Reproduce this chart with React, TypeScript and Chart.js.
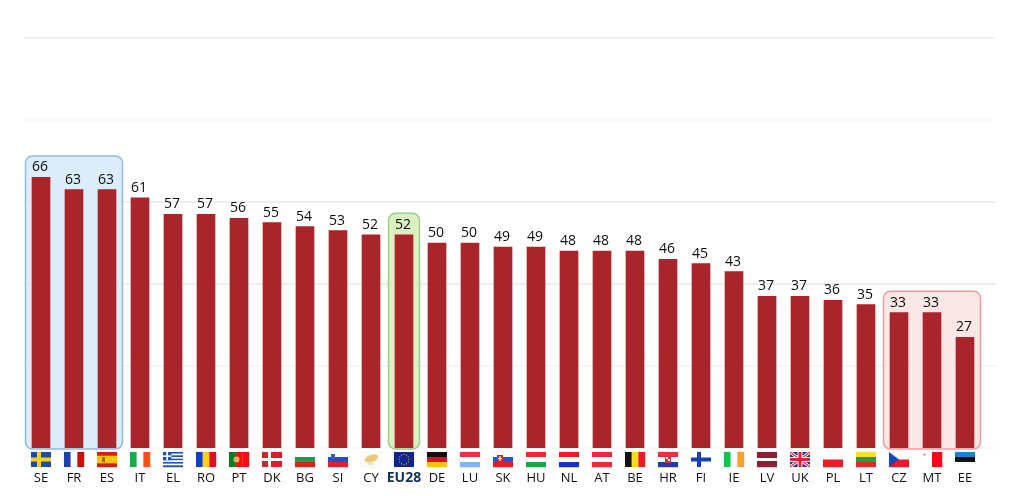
import React, { useEffect, useRef } from "react";
import { Chart, registerables } from "chart.js";

Chart.register(...registerables);

const categories = ["SE","FR","ES","IT","EL","RO","PT","DK","BG","SI","CY","EU28","DE","LU","SK","HU","NL","AT","BE","HR","FI","IE","LV","UK","PL","LT","CZ","MT","EE"];
const values = [66,63,63,61,57,57,56,55,54,53,52,52,50,50,49,49,48,48,48,46,45,43,37,37,36,35,33,33,27];
const gridValues = [0,20,40,60,80,100];
const gridColors = ["#f6f6f6","#f2f2f2","#e9e9e9","#e9e9e9","#f8f8f8","#ededed"];
const highlights = [
  { from: "SE", to: "ES", peak: 66, fill: "rgba(214,235,251,0.88)", stroke: "#93bbd6" },
  { from: "EU28", to: "EU28", peak: 52, fill: "rgba(216,238,184,0.9)", stroke: "#9ccb94" },
  { from: "CZ", to: "EE", peak: 33, fill: "rgba(251,229,227,0.88)", stroke: "#ee9aa4" },
];
const FONT = '"Open Sans", sans-serif';
const BAR = "#aa242b";

type Ctx = CanvasRenderingContext2D;
const hStripes = (c: Ctx, x: number, y: number, cols: string[], w = 20, h = 15) => {
  const s = h / cols.length;
  cols.forEach((col, i) => { c.fillStyle = col; c.fillRect(x, y + i * s, w, s + 0.2); });
};
const vStripes = (c: Ctx, x: number, y: number, cols: string[], w = 20, h = 15) => {
  const s = w / cols.length;
  cols.forEach((col, i) => { c.fillStyle = col; c.fillRect(x + i * s, y, s + 0.2, h); });
};
const cross = (c: Ctx, x: number, y: number, bg: string, fg: string, t = 4) => {
  c.fillStyle = bg; c.fillRect(x, y, 20, 15);
  c.fillStyle = fg; c.fillRect(x + 6, y, t, 15); c.fillRect(x, y + 7.5 - t / 2, 20, t);
};
const flags: Record<string, (c: Ctx, x: number, y: number) => void> = {
  SE: (c, x, y) => cross(c, x, y, "#1a4fa0", "#fcd116"),
  FR: (c, x, y) => vStripes(c, x, y, ["#1f3fb0", "#ffffff", "#c8100c"]),
  ES: (c, x, y) => { hStripes(c, x, y, ["#d21f1b", "#f6c500", "#f6c500", "#d21f1b"]); c.fillStyle = "#b5651d"; c.fillRect(x + 5, y + 5, 3, 5); },
  IT: (c, x, y) => vStripes(c, x, y, ["#11b04a", "#ffffff", "#ff4f17"]),
  EL: (c, x, y) => {
    hStripes(c, x, y, ["#1f4fc0","#fff","#1f4fc0","#fff","#1f4fc0","#fff","#1f4fc0","#fff","#1f4fc0"]);
    c.fillStyle = "#1f4fc0"; c.fillRect(x, y, 8.3, 8.3);
    c.fillStyle = "#fff"; c.fillRect(x + 3.3, y, 1.7, 8.3); c.fillRect(x, y + 3.3, 8.3, 1.7);
  },
  RO: (c, x, y) => vStripes(c, x, y, ["#1040c8", "#fcd116", "#e01020"]),
  PT: (c, x, y) => { vStripes(c, x, y, ["#0f7a2a", "#f01010", "#f01010"], 20, 15); c.fillStyle = "#d8b060"; c.beginPath(); c.arc(x + 7.5, y + 7.5, 3, 0, 7); c.fill(); },
  DK: (c, x, y) => cross(c, x, y, "#d8202f", "#ffffff", 3),
  BG: (c, x, y) => hStripes(c, x, y, ["#ffffff", "#1f9a4f", "#d62612"]),
  SI: (c, x, y) => { hStripes(c, x, y, ["#ffffff", "#1f4fd0", "#e0202a"]); c.fillStyle = "#3060c0"; c.fillRect(x + 3, y + 2, 4, 5); },
  CY: (c, x, y) => {
    c.fillStyle = "#fbfbf6"; c.fillRect(x, y, 20, 15);
    c.fillStyle = "#eecb72"; c.beginPath(); c.ellipse(x + 10.5, y + 6.5, 7, 3.6, -0.35, 0, 7); c.fill();
    c.strokeStyle = "#c7d7b0"; c.lineWidth = 1; c.beginPath(); c.moveTo(x + 7, y + 12); c.lineTo(x + 13, y + 12); c.stroke();
  },
  EU28: (c, x, y) => {
    c.fillStyle = "#10248f"; c.fillRect(x, y, 20, 15);
    c.fillStyle = "#e8d020";
    for (let i = 0; i < 12; i++) { const a = (i * Math.PI) / 6; c.fillRect(x + 10 + 5 * Math.cos(a) - 0.5, y + 7.5 + 5 * Math.sin(a) - 0.5, 1, 1); }
  },
  DE: (c, x, y) => hStripes(c, x, y, ["#111111", "#e0101a", "#fbc400"]),
  LU: (c, x, y) => hStripes(c, x, y, ["#f03040", "#ffffff", "#80b4f8"]),
  SK: (c, x, y) => { hStripes(c, x, y, ["#ffffff", "#1a58e0", "#f01a20"]); c.fillStyle = "#e02020"; c.fillRect(x + 4, y + 3, 6, 8); c.fillStyle = "#fff"; c.fillRect(x + 6.4, y + 4, 1.2, 5); c.fillRect(x + 5, y + 6, 4, 1); },
  HU: (c, x, y) => hStripes(c, x, y, ["#f02a28", "#ffffff", "#18a848"]),
  NL: (c, x, y) => hStripes(c, x, y, ["#f0182a", "#ffffff", "#1830c8"]),
  AT: (c, x, y) => hStripes(c, x, y, ["#f0283c", "#ffffff", "#f0283c"]),
  BE: (c, x, y) => vStripes(c, x, y, ["#111111", "#fbdc20", "#f01a28"]),
  HR: (c, x, y) => { hStripes(c, x, y, ["#e83040", "#ffffff", "#2838a8"]); c.fillStyle = "#d83040"; c.fillRect(x + 7, y + 4, 6, 7); c.fillStyle = "#fff"; c.fillRect(x + 8, y + 5, 2, 2); c.fillRect(x + 10, y + 7, 2, 2); },
  FI: (c, x, y) => cross(c, x, y, "#ffffff", "#1a40b8"),
  IE: (c, x, y) => vStripes(c, x, y, ["#1ac050", "#ffffff", "#f8a030"]),
  LV: (c, x, y) => hStripes(c, x, y, ["#8e1f35", "#8e1f35", "#ffffff", "#8e1f35", "#8e1f35"]),
  UK: (c, x, y) => {
    c.fillStyle = "#20308c"; c.fillRect(x, y, 20, 15);
    c.save(); c.beginPath(); c.rect(x, y, 20, 15); c.clip();
    c.strokeStyle = "#fff"; c.lineWidth = 3; c.beginPath(); c.moveTo(x, y); c.lineTo(x + 20, y + 15); c.moveTo(x + 20, y); c.lineTo(x, y + 15); c.stroke();
    c.strokeStyle = "#e8202f"; c.lineWidth = 1.2; c.stroke();
    c.restore();
    c.fillStyle = "#fff"; c.fillRect(x + 7.5, y, 5, 15); c.fillRect(x, y + 5, 20, 5);
    c.fillStyle = "#e8202f"; c.fillRect(x + 8.5, y, 3, 15); c.fillRect(x, y + 6, 20, 3);
  },
  PL: (c, x, y) => hStripes(c, x, y, ["#ffffff", "#f01a2a"]),
  LT: (c, x, y) => hStripes(c, x, y, ["#f4e030", "#2a9a40", "#e02a28"]),
  CZ: (c, x, y) => {
    hStripes(c, x, y, ["#ffffff", "#f0182c"]);
    c.fillStyle = "#1c48b0"; c.beginPath(); c.moveTo(x, y); c.lineTo(x + 10, y + 7.5); c.lineTo(x, y + 15); c.closePath(); c.fill();
  },
  MT: (c, x, y) => { vStripes(c, x, y, ["#ffffff", "#f8081a"]); c.fillStyle = "#999"; c.fillRect(x + 1.5, y + 1.5, 2, 2); },
  EE: (c, x, y) => hStripes(c, x, y, ["#1a80d8", "#111111", "#ffffff"]),
};

const decorations = {
  id: "decorations",
  beforeDatasetsDraw(chart: any) {
    const { ctx, scales: { x, y } } = chart;
    ctx.save();
    gridValues.forEach((v, i) => {
      const p = y.getPixelForValue(v);
      ctx.strokeStyle = gridColors[i];
      ctx.lineWidth = 1.5;
      ctx.beginPath(); ctx.moveTo(24, p); ctx.lineTo(996, p); ctx.stroke();
    });
    highlights.forEach((h) => {
      const l = x.getPixelForValue(categories.indexOf(h.from)) - 15.5;
      const r = x.getPixelForValue(categories.indexOf(h.to)) + 15.5;
      const t = y.getPixelForValue(h.peak) - 21.5;
      const b = y.getPixelForValue(0) + 1;
      ctx.beginPath();
      ctx.roundRect(l, t, r - l, b - t, 7);
      ctx.fillStyle = h.fill; ctx.fill();
      ctx.lineWidth = 1.5; ctx.strokeStyle = h.stroke; ctx.stroke();
    });
    ctx.restore();
  },
  afterDatasetsDraw(chart: any) {
    const { ctx, scales: { x, y } } = chart;
    ctx.save();
    ctx.font = `14px ${FONT}`;
    ctx.fillStyle = "#0c0c0c";
    ctx.textAlign = "center";
    ctx.textBaseline = "alphabetic";
    chart.getDatasetMeta(0).data.forEach((bar: any, i: number) => {
      ctx.fillText(String(values[i]), bar.x - 1, bar.y - 6);
    });
    const top = y.getPixelForValue(0) + 4;
    categories.forEach((cat, i) => {
      const fx = x.getPixelForValue(i) - 10;
      ctx.fillStyle = "#f8f8f8";
      ctx.fillRect(fx - 1, top - 1, 22, 17);
      flags[cat](ctx, fx, top);
    });
    ctx.restore();
  },
};

export default function App() {
  const ref = useRef<HTMLCanvasElement>(null);
  useEffect(() => {
    document.body.style.margin = "0";
    const chart = new Chart(ref.current!, {
      type: "bar",
      data: {
        labels: categories,
        datasets: [{ data: values, backgroundColor: BAR, barThickness: 18, borderWidth: 0 }],
      },
      options: {
        animation: false,
        responsive: false,
        devicePixelRatio: 1,
        layout: { padding: { left: 24.5, right: 42.5, top: 38, bottom: 0 } },
        plugins: { legend: { display: false }, tooltip: { enabled: false }, title: { display: false } },
        scales: {
          x: {
            offset: true,
            grid: { display: false, drawTicks: false },
            border: { display: false },
            afterFit: (s: any) => { s.height = 48; },
            ticks: {
              autoSkip: false,
              maxRotation: 0,
              padding: 22,
              color: (c: any) => (categories[c.index] === "EU28" ? "#12305f" : "#111111"),
              font: (c: any) => ({ family: FONT, size: categories[c.index] === "EU28" ? 14 : 13, weight: categories[c.index] === "EU28" ? "bold" : "normal" }),
            },
          },
          y: { display: false, min: 0, max: 100, ticks: { stepSize: 20 } },
        },
      },
      plugins: [decorations],
    } as any);
    return () => chart.destroy();
  }, []);
  return <canvas ref={ref} width={1024} height={496} style={{ display: "block" }} />;
}
